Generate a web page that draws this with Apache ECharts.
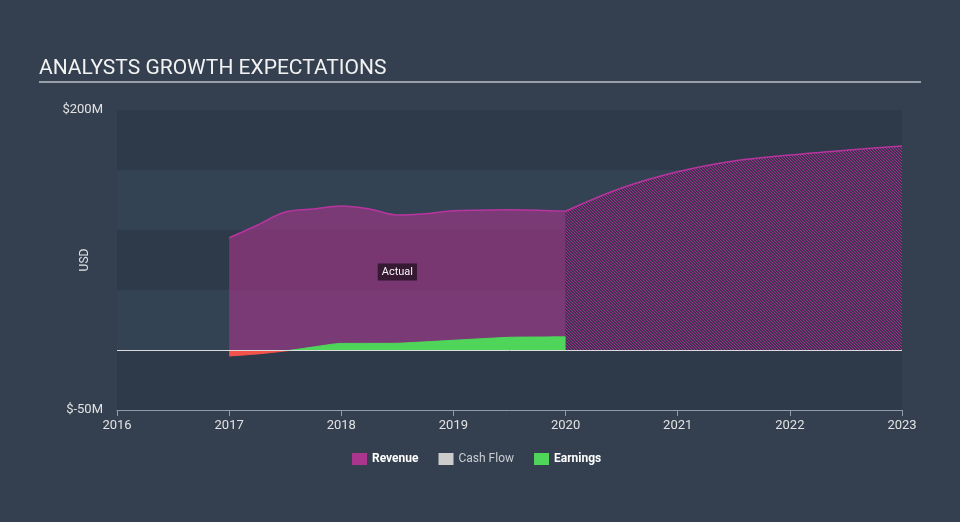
<!DOCTYPE html>
<html>
<head>
<meta charset="utf-8">
<title>Analysts Growth Expectations</title>
<script src="https://cdn.jsdelivr.net/npm/echarts@6/dist/echarts.min.js"></script>
<style>
  html, body { margin: 0; padding: 0; background: #344050; }
  #chart { width: 960px; height: 522px; }
</style>
</head>
<body>
<div id="chart"></div>
<script>
// x values are years (quarters as decimals)
var actualYears = [2017, 2017.25, 2017.5, 2017.75, 2018, 2018.25, 2018.5, 2018.75, 2019, 2019.25, 2019.5, 2019.75, 2020];
var revenueActual = [93.5, 104, 115, 117.5, 120, 117.5, 112.5, 113.5, 116, 116.5, 116.8, 116.5, 115.6]; // $M
var earningsActual = [-5, -3.3, -0.8, 2.5, 5.5, 5.5, 5.6, 6.8, 8.1, 9.4, 10.6, 10.8, 11]; // $M
var cashFlowActual = []; // no data in this chart

var forecastYears = [2020, 2020.5, 2021, 2021.5, 2022, 2022.5, 2023];
var revenueForecast = [115.6, 135, 148.5, 157.5, 162.5, 166.5, 170];

var xTicks = [2016, 2017, 2018, 2019, 2020, 2021, 2022, 2023];
var yTicks = [-50, 200];
var yTickLabels = ['$-50M', '$200M'];

function pairs(xs, ys) {
  return ys.map(function (v, i) { return [xs[i], v]; });
}

// hatch pattern for the forecast area
function hatch() {
  var c = document.createElement('canvas');
  c.width = 3;
  c.height = 3;
  var ctx = c.getContext('2d');
  var img = ctx.createImageData(3, 3);
  for (var y = 0; y < 3; y++) {
    for (var x = 0; x < 3; x++) {
      var k = (y * 3 + x) * 4;
      var on = ((x - y + 3) % 3) === 0;
      var col = on ? [158, 50, 140] : [62, 50, 80];
      img.data[k] = col[0];
      img.data[k + 1] = col[1];
      img.data[k + 2] = col[2];
      img.data[k + 3] = 255;
    }
  }
  ctx.putImageData(img, 0, 0);
  return c;
}

// earnings: red below zero, green above (split taken from the data range)
function earningsFill() {
  var hi = Math.max.apply(null, earningsActual.concat([0]));
  var lo = Math.min.apply(null, earningsActual.concat([0]));
  var t = (hi - lo) > 0 ? hi / (hi - lo) : 1;
  return new echarts.graphic.LinearGradient(0, 0, 0, 1, [
    { offset: 0, color: '#4fd65a' },
    { offset: t, color: '#4fd65a' },
    { offset: t, color: '#f4524a' },
    { offset: 1, color: '#f4524a' }
  ]);
}

var chart = echarts.init(document.getElementById('chart'));

var option = {
  backgroundColor: '#344050',
  animation: false,
  textStyle: { fontFamily: 'Roboto, sans-serif' },
  title: {
    text: 'ANALYSTS GROWTH EXPECTATIONS',
    left: 34,
    top: 53,
    textStyle: { color: '#f2f2f2', fontSize: 21, fontWeight: 'normal', fontFamily: 'Roboto' }
  },
  graphic: [{
    type: 'line',
    shape: { x1: 39, y1: 82, x2: 921, y2: 82 },
    style: { stroke: '#b9bfc7', lineWidth: 1.5 },
    silent: true
  }],
  legend: {
    left: 347,
    top: 448,
    icon: 'rect',
    itemWidth: 15,
    itemHeight: 12,
    itemGap: 20,
    textStyle: { color: '#ffffff', fontSize: 12, fontWeight: 'bold' },
    data: [
      { name: 'Revenue' },
      { name: 'Cash Flow', textStyle: { color: '#c9cdd2', fontWeight: 'normal' } },
      { name: 'Earnings' }
    ]
  },
  grid: { left: 117, right: 58, top: 110, bottom: 112 },
  xAxis: {
    type: 'value',
    min: xTicks[0],
    max: xTicks[xTicks.length - 1],
    interval: 1,
    axisLine: { onZero: false, lineStyle: { color: '#8f9cab', width: 1 } },
    axisTick: { show: true, length: 6, lineStyle: { color: '#8f9cab' } },
    axisLabel: {
      color: '#e2e2e2',
      fontSize: 13,
      margin: 9,
      formatter: function (v) { return xTicks.indexOf(v) >= 0 ? String(v) : ''; }
    },
    splitLine: { show: false }
  },
  yAxis: {
    type: 'value',
    min: -50,
    max: 200,
    interval: 50,
    name: 'USD',
    nameLocation: 'middle',
    nameRotate: 90,
    nameGap: 26,
    nameMoveOverlap: false,
    nameTextStyle: { color: '#e2e2e2', fontSize: 12 },
    axisLine: { show: false },
    axisTick: { show: false },
    axisLabel: {
      color: '#e2e2e2',
      fontSize: 13,
      margin: 14,
      formatter: function (v) {
        var i = yTicks.indexOf(v);
        return i >= 0 ? yTickLabels[i] : '';
      }
    },
    splitLine: { show: false },
    splitArea: { show: true, areaStyle: { color: ['#2e3a49', '#344354'] } }
  },
  series: [
    {
      name: 'Revenue',
      type: 'line',
      data: pairs(actualYears, revenueActual),
      smooth: 0.35,
      symbol: 'none',
      color: '#aa358c',
      lineStyle: { color: '#b8359f', width: 1.5 },
      areaStyle: { color: 'rgba(170,53,140,0.6)', opacity: 1 },
      markPoint: {
        silent: true,
        symbol: 'rect',
        symbolSize: 1,
        itemStyle: { color: 'transparent' },
        label: {
          show: true,
          position: 'inside',
          formatter: 'Actual',
          color: '#f4f4f4',
          fontSize: 11,
          backgroundColor: 'rgba(42,20,40,0.85)',
          padding: [3, 4]
        },
        data: [{ coord: [2018.5, 65] }]
      },
      z: 2
    },
    {
      name: 'Revenue',
      type: 'line',
      data: pairs(forecastYears, revenueForecast),
      smooth: 0.35,
      symbol: 'none',
      color: '#aa358c',
      lineStyle: { color: '#b8359f', width: 1.5 },
      areaStyle: { color: { image: hatch(), repeat: 'repeat' }, opacity: 1 },
      z: 2
    },
    {
      name: 'Cash Flow',
      type: 'line',
      data: cashFlowActual,
      symbol: 'none',
      color: '#cccccc'
    },
    {
      name: 'Earnings',
      type: 'line',
      data: pairs(actualYears, earningsActual),
      smooth: 0.2,
      symbol: 'none',
      color: '#4fd65a',
      lineStyle: { width: 1, color: earningsFill() },
      areaStyle: { opacity: 1, color: earningsFill() },
      markLine: {
        silent: true,
        symbol: 'none',
        label: { show: false },
        lineStyle: { color: '#dcdcdc', width: 1, type: 'solid' },
        data: [{ yAxis: 0 }]
      },
      z: 3
    }
  ]
};

chart.setOption(option);
</script>
</body>
</html>
